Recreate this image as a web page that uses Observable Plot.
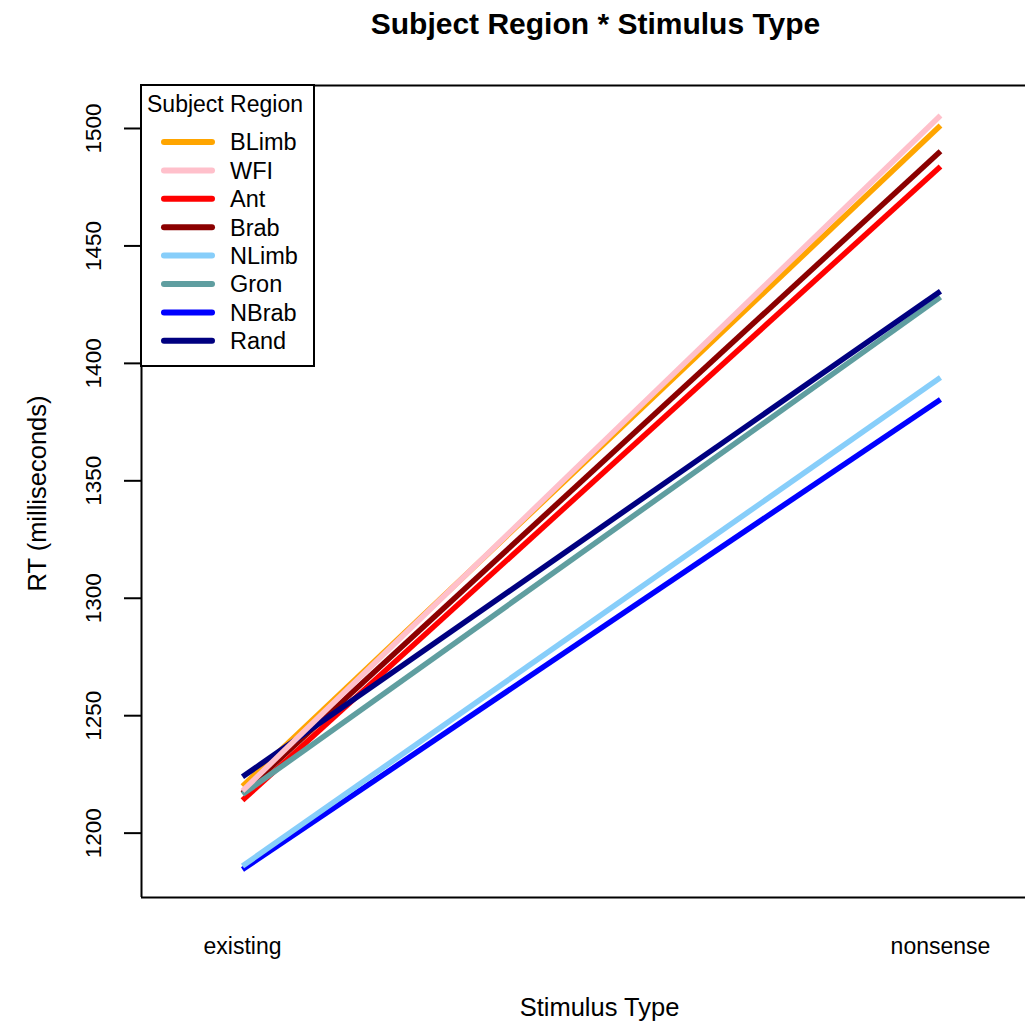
<!DOCTYPE html>
<html><head><meta charset="utf-8">
<script src="https://cdn.jsdelivr.net/npm/d3@7"></script>
<script src="https://cdn.jsdelivr.net/npm/@observablehq/plot@0.6"></script>
<style>body{margin:0;background:#fff} svg{display:block}</style>
</head><body><div id="chart"></div>
<script>
const stimulusTypes = ["existing", "nonsense"];
const regions = ["BLimb", "WFI", "Ant", "Brab", "NLimb", "Gron", "NBrab", "Rand"];
const colors = ["orange", "pink", "red", "darkred", "lightskyblue", "cadetblue", "blue", "navy"];
const existingRT = [1220, 1218, 1214, 1217, 1186, 1216.5, 1184.5, 1224];
const nonsenseRT = [1501.3, 1505.5, 1483.8, 1490.3, 1394, 1428.2, 1384.6, 1430.7];
const yTicks = [1200, 1250, 1300, 1350, 1400, 1450, 1500];
const drawOrder = ["Ant", "BLimb", "Brab", "Gron", "NBrab", "NLimb", "Rand", "WFI"];

const data = [];
for (const r of drawOrder) {
  const k = regions.indexOf(r);
  data.push({region: r, s: 0, rt: existingRT[k]});
  data.push({region: r, s: 1, rt: nonsenseRT[k]});
}

const xDom = [-0.1447, 1.1218];
const yDom = [1172.6, 1518.3];
const font = "'Liberation Sans', Arial, Helvetica, sans-serif";

const plot = Plot.plot({
  width: 1025, height: 1021,
  marginTop: 85, marginBottom: 124, marginLeft: 141, marginRight: 0,
  style: {fontFamily: font, background: "white", color: "black", overflow: "visible"},
  x: {domain: xDom, axis: null},
  y: {domain: yDom, axis: null},
  color: {domain: regions, range: colors},
  marks: [
    Plot.line(data, {x: "s", y: "rt", z: "region", stroke: "region", strokeWidth: 5.5, strokeLinecap: "butt"}),
    Plot.ruleX([xDom[0]], {stroke: "black", strokeWidth: 2}),
    Plot.ruleY([yDom[0], yDom[1]], {stroke: "black", strokeWidth: 2}),
    Plot.axisY({ticks: yTicks, tickSize: 17, tickFormat: () => "", label: null, strokeWidth: 2}),
    Plot.text(yTicks, {y: d => d, frameAnchor: "left", dx: -41, rotate: -90, textAnchor: "middle", lineAnchor: "bottom", fontSize: 22.5, text: d => String(d), fill: "black"}),
    Plot.text(stimulusTypes, {x: (d, i) => i, frameAnchor: "bottom", dy: 56, lineAnchor: "bottom", fontSize: 23, text: d => d, fill: "black"}),
    Plot.text(["Stimulus Type"], {frameAnchor: "bottom", dx: 16, dy: 118, lineAnchor: "bottom", fontSize: 25.5, text: d => d, fill: "black"}),
    Plot.text(["RT (milliseconds)"], {frameAnchor: "left", dx: -96, dy: 2, rotate: -90, textAnchor: "middle", lineAnchor: "bottom", fontSize: 25.5, text: d => d, fill: "black"}),
    Plot.text(["Subject Region * Stimulus Type"], {frameAnchor: "top", dx: 12, dy: -52, lineAnchor: "bottom", fontSize: 30, fontWeight: "bold", text: d => d, fill: "black"})
  ]
});
document.getElementById("chart").appendChild(plot);

// Legend (top-left inside the frame)
const svg = d3.select(plot);
const lg = svg.append("g").attr("transform", "translate(141,85)")
  .style("font-family", font).attr("text-anchor", "start");
lg.append("rect").attr("x", 0).attr("y", 0).attr("width", 173).attr("height", 281)
  .attr("fill", "white").attr("stroke", "black").attr("stroke-width", 2);
lg.append("text").attr("x", 6).attr("y", 27).attr("font-size", 23).attr("text-anchor", "start")
  .attr("fill", "black").text("Subject Region");
regions.forEach((r, i) => {
  const yy = 57 + i * 28.4;
  lg.append("line").attr("x1", 23).attr("x2", 71).attr("y1", yy).attr("y2", yy)
    .attr("stroke", colors[i]).attr("stroke-width", 6).attr("stroke-linecap", "round");
  lg.append("text").attr("x", 89).attr("y", yy).attr("dy", "0.36em").attr("font-size", 23.5)
    .attr("text-anchor", "start").attr("fill", "black").text(r);
});
</script>
</body></html>
